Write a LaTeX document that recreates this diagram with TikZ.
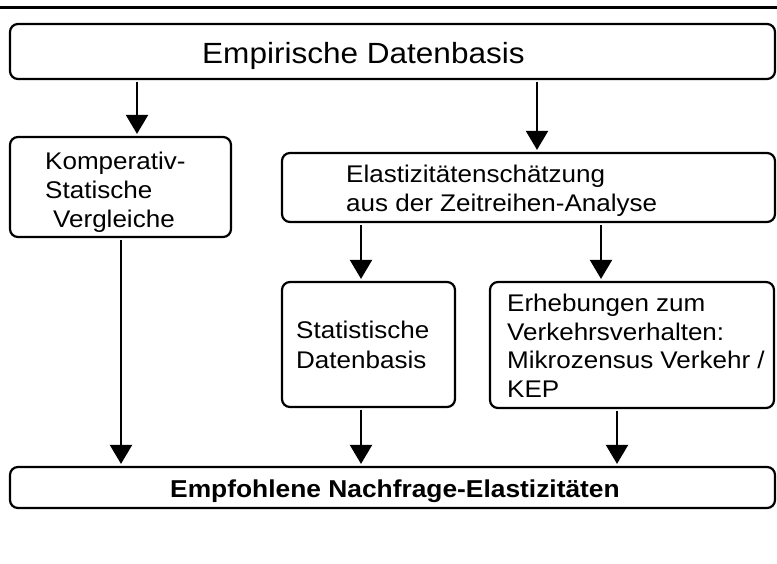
\documentclass[tikz,border=0pt]{standalone}
\usepackage{fontspec}
\setmainfont{Liberation Sans}[FakeStretch=1.08]
\usetikzlibrary{arrows.meta}
\tikzset{
  box/.style={draw=black, line width=2.2pt, rounded corners=8pt, inner sep=0pt, fill=white},
  arr/.style={draw=black, line width=2.2pt, -{Triangle[width=22pt,length=19pt]}, shorten >=2pt, shorten <=2pt},
  txt/.style={inner sep=0pt, align=left, anchor=north west, font=\fontsize{24.1}{29}\selectfont},
}
\begin{document}
\begin{tikzpicture}[x=1pt,y=-1pt]
\useasboundingbox (0,0) rectangle (777,564);
% top rule
\draw[line width=2.6pt] (0,7.5) -- (777,7.5);
% boxes
\node[box, minimum width=765pt, minimum height=55pt] (top) at (392.5,51.5) {};
\node[box, minimum width=221pt, minimum height=100pt] (komp) at (120.5,187) {};
\node[box, minimum width=493pt, minimum height=69pt] (elast) at (528.5,187.5) {};
\node[box, minimum width=173pt, minimum height=125pt] (stat) at (368.5,344.5) {};
\node[box, minimum width=284pt, minimum height=126pt] (erheb) at (632,345) {};
\node[box, minimum width=765pt, minimum height=41pt] (bottom) at (392.5,487.5) {};
% texts
\node[inner sep=0pt, anchor=base west, font=\fontsize{29.2}{32}\selectfont] (toptext) at (202,64) {Empirische Datenbasis};
\node[txt] (komptext) at (45,152) {Komperativ-\\Statische\\\hspace*{8pt}Vergleiche};
\node[txt, font=\fontsize{24.1}{29}\selectfont] (elasttext) at (346,165) {Elastizitätenschätzung\\aus der Zeitreihen-Analyse};
\node[txt, font=\fontsize{24.1}{30}\selectfont] (stattext) at (296,321) {Statistische\\Datenbasis};
\node[txt, font=\fontsize{24.1}{28.5}\selectfont] (erhebtext) at (507,294) {Erhebungen zum\\Verkehrsverhalten:\\Mikrozensus Verkehr /\\KEP};
\node[inner sep=0pt, anchor=base, font=\fontsize{24.4}{28}\selectfont\bfseries] (bottomtext) at (395,497) {Empfohlene Nachfrage-Elastizitäten};
% arrows
\draw[arr] (top.south -| 137,0) -- (komp.north -| 137,0);
\draw[arr] (top.south -| 537,0) -- (elast.north -| 537,0);
\draw[arr] (elast.south -| 361,0) -- (stat.north -| 361,0);
\draw[arr] (elast.south -| 601,0) -- (erheb.north -| 601,0);
\draw[arr] (komp.south -| 121,0) -- (bottom.north -| 121,0);
\draw[arr] (stat.south -| 361,0) -- (bottom.north -| 361,0);
\draw[arr] (erheb.south -| 617,0) -- (bottom.north -| 617,0);
\end{tikzpicture}
\end{document}
